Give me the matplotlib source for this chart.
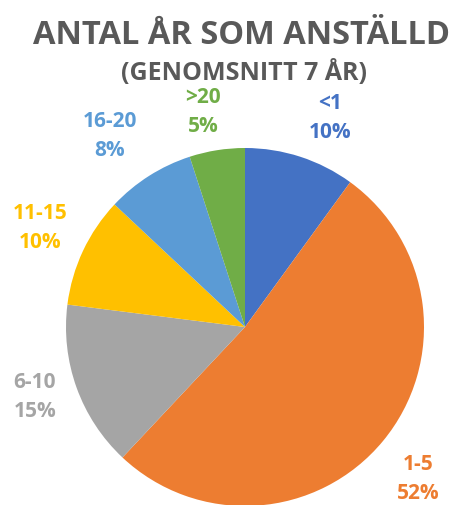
import matplotlib
matplotlib.use("Agg")
import matplotlib.pyplot as plt

# ── Data ──────────────────────────────────────────────────────────────────────
CATEGORIES = ["<1", "1-5", "6-10", "11-15", "16-20", ">20"]
SHARES     = [10, 52, 15, 10, 8, 5]
COLORS     = ["#4472C4", "#ED7D31", "#A5A5A5", "#FFC000", "#5B9BD5", "#70AD47"]

TITLE    = "ANTAL ÅR SOM ANSTÄLLD"
SUBTITLE = "(GENOMSNITT 7 ÅR)"

# label anchor positions in pixel coords (x, y from top)
LABEL_POS = {"<1": (330, 118), "1-5": (418, 479), "6-10": (35, 397),
             "11-15": (40, 228), "16-20": (110, 136), ">20": (203, 112)}

W, H = 456, 506
plt.rcParams["font.family"] = ["Open Sans", "DejaVu Sans"]

fig = plt.figure(figsize=(W / 100, H / 100), dpi=100)
ax = fig.add_axes([0, 0, 1, 1])
ax.axis("off")

ax.pie(SHARES, colors=COLORS, startangle=90, counterclock=False,
       center=(245, H - 328), radius=179,
       wedgeprops={"linewidth": 0})
ax.set_xlim(0, W)
ax.set_ylim(0, H)
ax.set_aspect("equal")

fig.text(242 / W, 1 - 35 / H, TITLE, ha="center", va="center",
         fontsize=23.5, fontweight="bold", color="#595959")
fig.text(244 / W, 1 - 73 / H, SUBTITLE, ha="center", va="center",
         fontsize=18, fontweight="bold", color="#595959")

for cat, share, col in zip(CATEGORIES, SHARES, COLORS):
    x, y = LABEL_POS[cat]
    ax.text(x, H - y, f"{cat}\n{share}%", ha="center", va="center",
            fontsize=15, fontweight="bold", color=col, linespacing=1.45)

fig.savefig("out.png", dpi=100)
